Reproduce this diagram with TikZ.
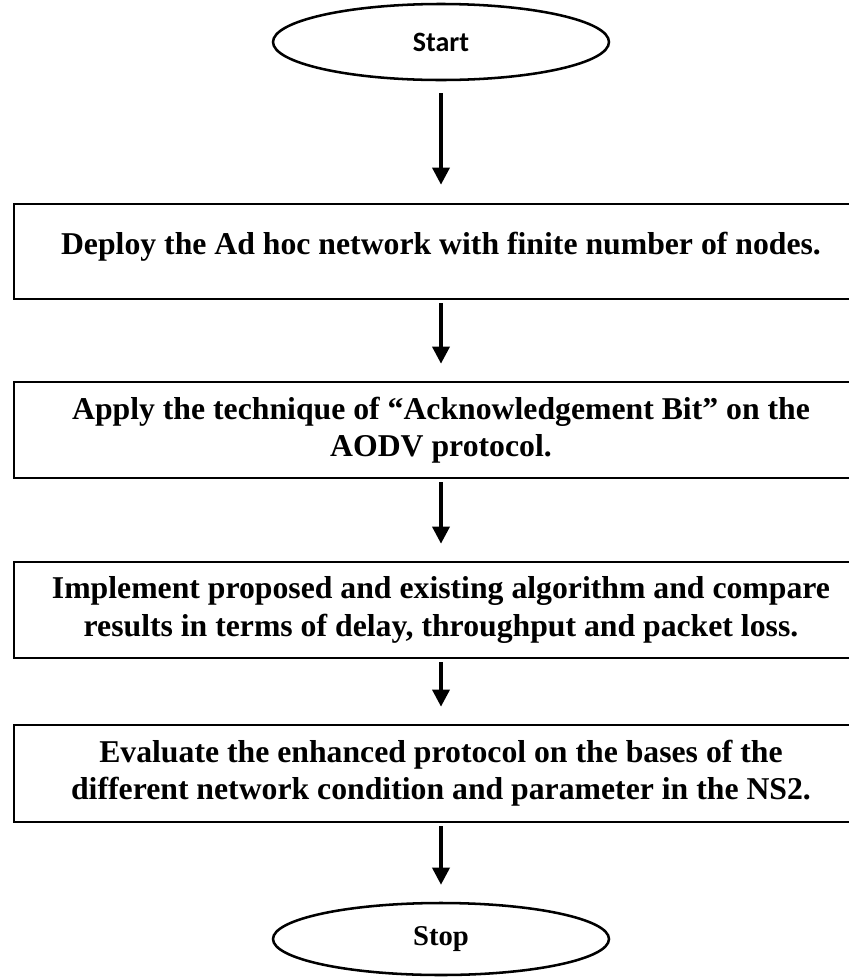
\documentclass[tikz,border=0pt]{standalone}
\usepackage{fontspec}
\setmainfont{Liberation Serif}
\newfontfamily\startfont{Carlito}
\usetikzlibrary{arrows.meta, shapes.geometric}
\tikzset{
	stepbox/.style={draw, line width=2pt, minimum width=640.5pt, align=center, inner sep=0pt,
		font=\fontsize{23.8}{28}\selectfont\bfseries},
	terminal/.style={draw, ellipse, line width=1.9pt, minimum width=252pt, inner sep=0pt},
	flow/.style={-{Triangle[length=12.75pt, width=12.75pt]}, line width=2.6pt, shorten <=2pt, shorten >=12.75pt},
}
\begin{document}
\begin{tikzpicture}[x=0.75pt, y=-0.75pt]
			\clip (0,0) rectangle (849,979);
			
			\node[terminal, minimum height=57pt, font=\startfont\fontsize{21}{25}\selectfont\bfseries] (start) at (441,42) {Start};
			\node[stepbox, minimum height=71.25pt, text depth=12pt] (deploy) at (441,251.5) {Deploy the Ad hoc network with finite number of nodes.};
			\node[stepbox, minimum height=72pt] (apply) at (441,430) {Apply the technique of “Acknowledgement Bit” on the\\ AODV protocol.};
			\node[stepbox, minimum height=72pt] (implement) at (441,610) {Implement proposed and existing algorithm and compare\\ results in terms of delay, throughput and packet loss.};
			\node[stepbox, minimum height=72.75pt] (evaluate) at (441,773.5) {Evaluate the enhanced protocol on the bases of the\\ different network condition and parameter in the NS2.};
			\node[terminal, minimum height=54pt, font=\fontsize{21.5}{25}\selectfont\bfseries] (stop) at (441,939) {Stop};
			
			\draw[flow, shorten <=9pt, shorten >=13.5pt] (start) -- (deploy);
			\draw[flow] (deploy) -- (apply);
			\draw[flow] (apply) -- (implement);
			\draw[flow] (implement) -- (evaluate);
			\draw[flow] (evaluate) -- (stop);
		\end{tikzpicture}
\end{document}
